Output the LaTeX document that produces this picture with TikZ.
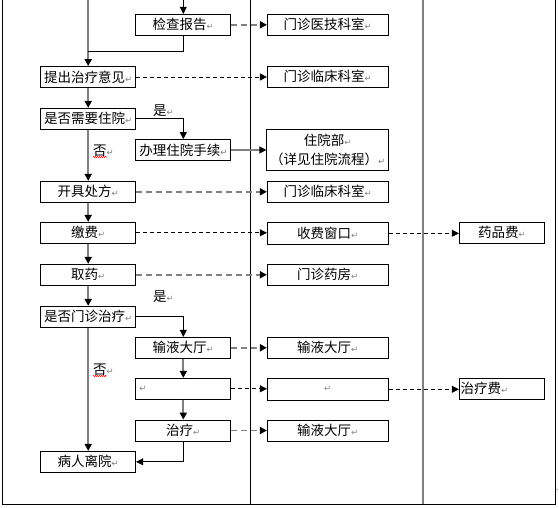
\documentclass[tikz,border=0pt]{standalone}
\usepackage{fontspec}
\newfontfamily\cjk{Noto Sans CJK SC}
\newfontfamily\djv{DejaVu Sans}
\usetikzlibrary{arrows.meta,decorations.pathmorphing}
\definecolor{lg}{RGB}{128,128,128}
\newcommand\pmk{{\djv\fontsize{8.5}{8.5}\selectfont\color{lg}↵}}
\begin{document}
\begin{tikzpicture}[x=1pt,y=-1pt,
 box/.style={draw=black,line width=0.8pt,minimum height=21pt,inner ysep=0pt,inner xsep=3.5pt,font=\cjk\fontsize{13.5}{19}\selectfont},
 mb/.style={box,minimum width=95pt},
 rb/.style={box,minimum width=121pt},
 fb/.style={box,minimum width=85.4pt},
 lab/.style={font=\cjk\fontsize{13.5}{15}\selectfont,inner sep=0pt,anchor=west},
 tip/.style={-{Triangle[length=7pt,width=7pt,color=black]}},
 flow/.style={draw=lg,line width=1.8pt,tip},
 link/.style={draw=black,line width=0.9pt},
 dg/.style={draw=lg,line width=1.8pt,dash pattern=on 6pt off 4pt,tip},
 dk/.style={draw=black,line width=0.9pt,dash pattern=on 4pt off 3pt,tip},
]
\useasboundingbox (0,0) rectangle (559,508);
% frame
\draw[black,line width=0.9pt] (2.5,0) -- (2.5,504) -- (555,504) -- (555,0);
\draw[black,line width=0.9pt] (250,0) -- (250,504);
\draw[lg,line width=1.8pt] (423,0) -- (423,504);
% main nodes
\node[mb] (b1) at (183.3,24.8) {检查报告\pmk};
\node[mb] (b2) at (88.2,77) {\makebox[88pt][l]{提出治疗意见\pmk}};
\node[mb] (b3) at (88.2,118.8) {\makebox[88pt][l]{是否需要住院\pmk}};
\node[mb] (b4) at (183.3,150) {\makebox[88pt][l]{办理住院手续\pmk}};
\node[mb] (b5) at (88.2,191.8) {开具处方\pmk};
\node[mb] (b6) at (88.2,232.8) {缴费\pmk};
\node[mb] (b7) at (88.2,274.8) {取药\pmk};
\node[mb] (b8) at (88.2,316.8) {\makebox[88pt][l]{是否门诊治疗\pmk}};
\node[mb] (b9) at (183.3,347.8) {输液大厅\pmk};
\node[mb] (b10) at (183.3,388.8) {\makebox[88pt][l]{\pmk}};
\node[mb] (b11) at (183.3,430.5) {治疗\pmk};
\node[mb] (b12) at (88.2,461.8) {病人离院\pmk};
% right column
\node[rb] (r1) at (327.8,24.8) {门诊医技科室\pmk};
\node[rb] (r2) at (327.8,76.8) {门诊临床科室\pmk};
\node[rb,minimum height=41pt,align=center] (r3) at (327.8,149.5) {住院部\pmk\\（详见住院流程）\pmk};
\node[rb] (r4) at (327.8,191.8) {门诊临床科室\pmk};
\node[rb,minimum height=22pt] (r5) at (327.8,233.3) {收费窗口\pmk};
\node[rb] (r6) at (327.8,274.8) {门诊药房\pmk};
\node[rb] (r7) at (327.8,347.8) {输液大厅\pmk};
\node[rb,minimum height=22pt] (r8) at (327.8,389.3) {\pmk};
\node[rb] (r9) at (327.8,430.5) {输液大厅\pmk};
% far right
\node[fb] (f1) at (502,232.8) {药品费\pmk};
\node[fb,inner xsep=1pt] (f2) at (502,388.8) {\makebox[83pt][l]{治疗费\pmk}};
% labels
\node[lab] (y1) at (153,111) {是\pmk};
\node[lab] (n1) at (93,151) {否\pmk};
\node[lab] (y2) at (153,297) {是\pmk};
\node[lab] (n2) at (93,370) {否\pmk};
\draw[red,line width=0.5pt,decorate,decoration={snake,amplitude=0.6pt,segment length=2pt}] (n1.south west) -- ++(14,0);
\draw[red,line width=0.5pt,decorate,decoration={snake,amplitude=0.6pt,segment length=2pt}] (n2.south west) -- ++(14,0);
\node[inner sep=0pt,anchor=west] (pm) at (555.4,490) {{\djv\fontsize{4}{4}\selectfont\color{lg}↵}};
% coordinates
\coordinate (t0) at (88.2,0);
\coordinate (t1) at (183.3,0);
\coordinate (j1) at (88.2,51);
% flow connectors
\draw[link,tip] (t1) -- (b1.north);
\draw[flow] (t0) -- (b2.north);
\draw[link] (b1.south) |- (j1);
\draw[flow] (b2) -- (b3);
\draw[link,tip] (b3.east) -| (b4.north);
\draw[flow] (b3) -- (b5);
\draw[draw=lg,line width=1.5pt,tip] (b4.east) -- (b4.east -| r3.west);
\draw[flow] (b5) -- (b6);
\draw[flow] (b6) -- (b7);
\draw[flow] (b7) -- (b8);
\draw[link,tip] (b8.east) -| (b9.north);
\draw[flow] (b8) -- (b12);
\draw[flow] (b9) -- (b10);
\draw[flow] (b10) -- (b11);
\draw[link,tip] (b11.south) |- (b12.east);
% dashed connectors
\draw[dg] (b1.east) -- (b1.east -| r1.west);
\draw[dk] (b2.east) -- (b2.east -| r2.west);
\draw[dg] (b5.east) -- (b5.east -| r4.west);
\draw[dk] (b6.east) -- (b6.east -| r5.west);
\draw[dk] (r5.east) -- (r5.east -| f1.west);
\draw[dg] (b7.east) -- (b7.east -| r6.west);
\draw[dg] (b9.east) -- (b9.east -| r7.west);
\draw[dk] (b10.east) -- (b10.east -| r8.west);
\draw[dk] (r8.east) -- (r8.east -| f2.west);
\draw[dg] (b11.east) -- (b11.east -| r9.west);
\end{tikzpicture}
\end{document}
